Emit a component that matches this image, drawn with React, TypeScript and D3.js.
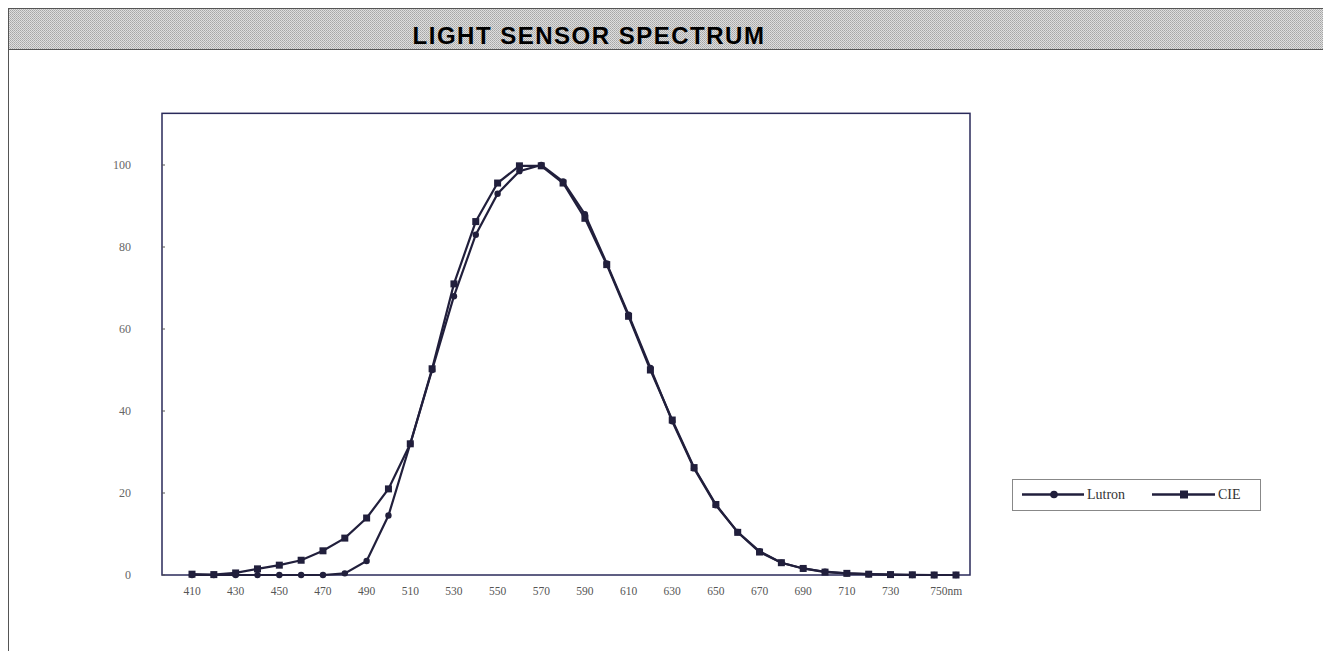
import * as d3 from "d3"

// wavelengths (nm), one point every 10 nm
const wavelengths = d3.range(400, 751, 10)

// Lutron sensor relative response (%)
const lutron = [
  0, 0, 0, 0, 0, 0, 0, 0.4, 3.4, 14.5, 32, 50, 68, 83, 93, 98.5, 100, 96, 88, 76,
  63.5, 50.5, 37.5, 26, 17, 10.5, 5.8, 3, 1.6, 0.8, 0.4, 0.2, 0.1, 0, 0, 0,
]

// CIE photopic curve (%)
const cie = [
  0.2, 0.1, 0.5, 1.5, 2.4, 3.6, 5.9, 9, 13.9, 21, 32, 50.3, 71, 86.2, 95.6, 99.8, 99.8, 95.6, 87,
  75.7, 63.1, 50, 37.8, 26.2, 17.2, 10.4, 5.6, 3, 1.6, 0.7, 0.4, 0.2, 0.1, 0.05, 0, 0,
]

const yTicks = [0, 20, 40, 60, 80, 100]
const xTickLabels = ["410", "430", "450", "470", "490", "510", "530", "550", "570", "590", "610", "630", "650", "670", "690", "710", "730", "750"]

const W = 1323
const H = 651
const lineColor = "#211f3c"

export default function App() {
  const x = d3.scaleLinear().domain([400, 750]).range([192, 956])
  const y = d3.scaleLinear().domain([0, 100]).range([575, 165])
  const yTop = y(112.6)
  const frameLeft = 162
  const frameRight = 970

  const line = d3
    .line<number>()
    .x((_, i) => x(wavelengths[i]))
    .y((d) => y(d))

  return (
    <svg
      width={W}
      height={H}
      style={{ position: "fixed", left: 0, top: 0, background: "#fff" }}
    >
      <defs>
        <pattern id="hatch" width="2" height="2" patternUnits="userSpaceOnUse">
          <rect width="2" height="2" fill="#dedede" />
          <rect width="1" height="1" fill="#a6a6a6" />
          <rect x="1" y="1" width="1" height="1" fill="#b4b4b4" />
        </pattern>
      </defs>

      {/* page frame and title band */}
      <rect x={8.5} y={8.5} width={1320} height={700} fill="#fff" stroke="#555" strokeWidth={1} />
      <rect x={8.5} y={8.5} width={1320} height={41} fill="url(#hatch)" stroke="#555" strokeWidth={1} />
      <text
        x={589}
        y={44}
        textAnchor="middle"
        fontFamily="Liberation Sans, Arial, sans-serif"
        fontWeight="bold"
        fontSize={24}
        letterSpacing={1.5}
        fill="#000"
      >
        LIGHT SENSOR SPECTRUM
      </text>

      {/* plot frame */}
      <rect
        x={frameLeft}
        y={yTop}
        width={frameRight - frameLeft}
        height={y(0) - yTop}
        fill="none"
        stroke="#2a2a5a"
        strokeWidth={1.5}
      />

      {/* y axis ticks and labels */}
      {yTicks.map((t) => (
        <g key={t}>
          <line x1={frameLeft} x2={frameLeft + 3} y1={y(t)} y2={y(t)} stroke="#555" />
          <text
            x={131}
            y={y(t) + 4}
            textAnchor="end"
            fontFamily="Liberation Serif, serif"
            fontSize={12}
            fill="#666"
          >
            {t}
          </text>
        </g>
      ))}

      {/* x labels */}
      {xTickLabels.map((l, i) => (
        <text
          key={l}
          x={x(+l - 10) + (i === xTickLabels.length - 1 ? 12 : 0)}
          y={595}
          textAnchor="middle"
          fontFamily="Liberation Serif, serif"
          fontSize={11.5}
          fill="#555"
        >
          {i === xTickLabels.length - 1 ? l + "nm" : l}
        </text>
      ))}

      {/* CIE series */}
      <path d={line(cie) || ""} fill="none" stroke={lineColor} strokeWidth={2.2} />
      {cie.map((v, i) => (
        <rect key={"c" + i} x={x(wavelengths[i]) - 3.5} y={y(v) - 3.5} width={7} height={7} fill={lineColor} />
      ))}

      {/* Lutron series */}
      <path d={line(lutron) || ""} fill="none" stroke={lineColor} strokeWidth={2.2} />
      {lutron.map((v, i) => (
        <circle key={"l" + i} cx={x(wavelengths[i])} cy={y(v)} r={3.2} fill={lineColor} />
      ))}

      {/* legend */}
      <g transform="translate(1012,479)">
        <rect x={0.5} y={0.5} width={248} height={31} fill="#fff" stroke="#888" />
        <line x1={10} x2={72} y1={15.5} y2={15.5} stroke={lineColor} strokeWidth={2.5} />
        <circle cx={42} cy={15.5} r={3.8} fill={lineColor} />
        <text x={75} y={20} fontFamily="Liberation Serif, serif" fontSize={14} fill="#333">
          Lutron
        </text>
        <line x1={140} x2={203} y1={15.5} y2={15.5} stroke={lineColor} strokeWidth={2.5} />
        <rect x={168} y={11.5} width={8} height={8} fill={lineColor} />
        <text x={206} y={20} fontFamily="Liberation Serif, serif" fontSize={14} fill="#333">
          CIE
        </text>
      </g>
    </svg>
  )
}
